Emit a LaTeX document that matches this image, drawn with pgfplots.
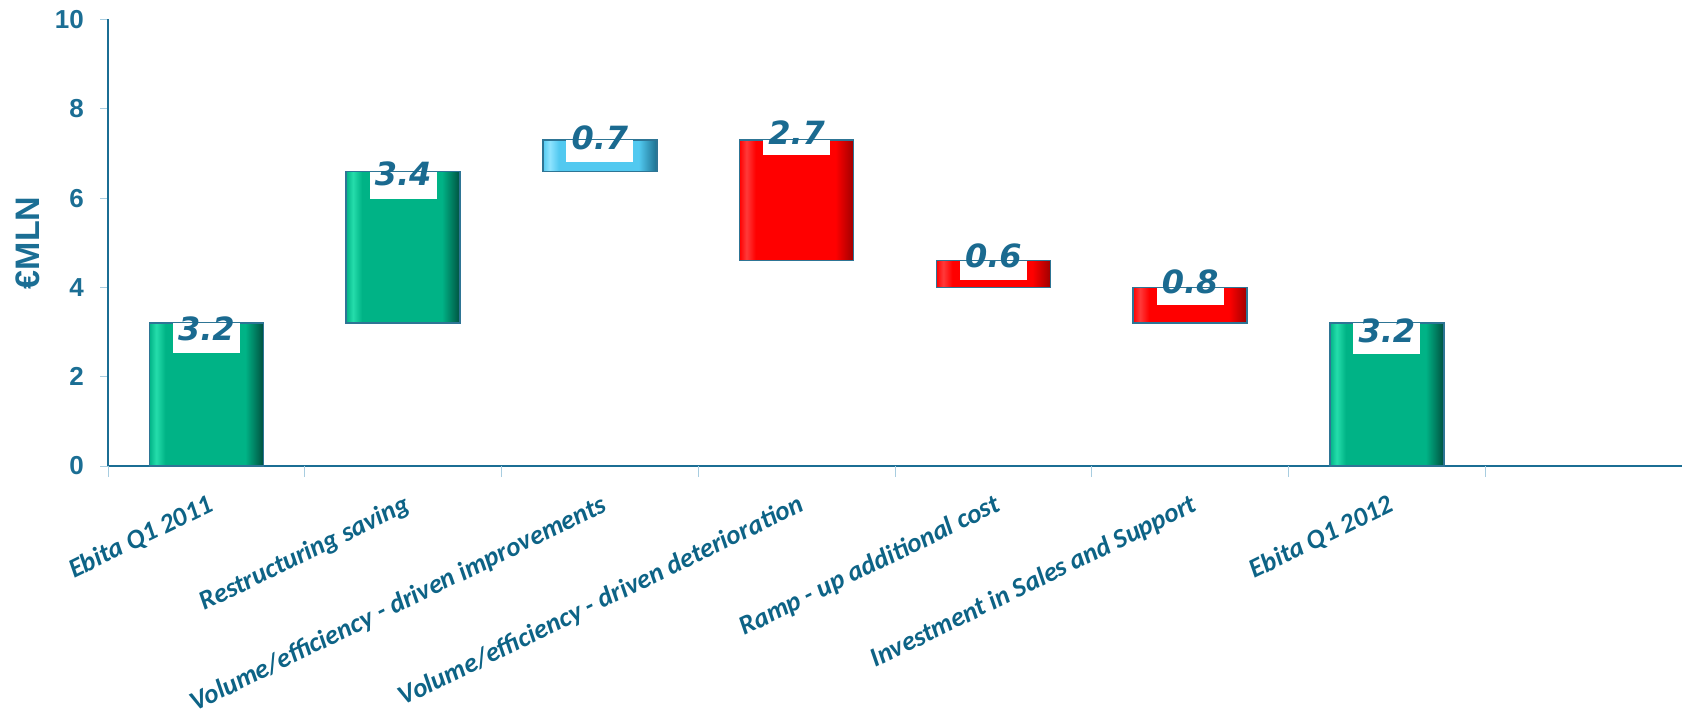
\documentclass[border=0pt]{standalone}
\usepackage{pgfplots}
\pgfplotsset{compat=1.18}
\usepackage{pgfplotstable}
\usepackage{fontspec}
\setmainfont{Carlito}
\newfontfamily\arialf{Liberation Sans}
\newfontfamily\dejavu{DejaVu Sans}
\definecolor{gMain}{HTML}{00B386}
\definecolor{gLight}{HTML}{25DDAB}
\definecolor{gDark}{HTML}{00503F}
\definecolor{bMain}{HTML}{52C9F0}
\definecolor{bLight}{HTML}{8FE4FF}
\definecolor{bDark}{HTML}{1C6F8E}
\definecolor{rMain}{HTML}{FF0000}
\definecolor{rLight}{HTML}{FF3A3A}
\definecolor{rDark}{HTML}{9E0000}
\definecolor{border}{HTML}{2E7595}
\definecolor{axiscol}{HTML}{1B6E94}
\definecolor{tickcol}{HTML}{A8CDE0}
\definecolor{labcol}{HTML}{1A6A90}
\definecolor{catcol}{HTML}{0D6386}
\pgfdeclarehorizontalshading{gbar}{100bp}{color(0bp)=(gMain); color(25bp)=(gMain); color(28bp)=(gLight); color(32bp)=(gMain); color(67bp)=(gMain); color(75bp)=(gDark); color(100bp)=(gDark)}
\pgfdeclarehorizontalshading{bbar}{100bp}{color(0bp)=(bMain); color(25bp)=(bMain); color(28bp)=(bLight); color(32bp)=(bMain); color(67bp)=(bMain); color(75bp)=(bDark); color(100bp)=(bDark)}
\pgfdeclarehorizontalshading{rbar}{100bp}{color(0bp)=(rMain); color(25bp)=(rMain); color(28bp)=(rLight); color(32bp)=(rMain); color(67bp)=(rMain); color(75bp)=(rDark); color(100bp)=(rDark)}
\newcommand\vlab[6]{%
  \node[fill=white, minimum width=67bp, minimum height=#3, inner sep=0pt, anchor=north] at (axis cs:#1,#2) {};
  \node[font=\dejavu\bfseries\itshape\fontsize{32bp}{32bp}\selectfont, text=labcol, inner sep=0pt, anchor=center] at ([yshift=#4]axis cs:#1,#2) {#5};}
\begin{document}
\begin{tikzpicture}
\begin{axis}[
  name=ax,
  scale only axis,
  width=1574bp, height=446.5bp,
  xmin=-0.5, xmax=7.5,
  ymin=0, ymax=10,
  axis lines=left,
  axis line style={-, draw=axiscol, line width=1.5bp},
  tick align=outside,
  major tick length=8bp,
  ytick={0,2,4,6,8,10},
  ytick style={draw=tickcol, line width=1bp},
  /pgf/number format/assume math mode=true,
  yticklabel style={font=\arialf\bfseries\fontsize{26bp}{26bp}\selectfont, text=axiscol, inner sep=0pt, xshift=-16bp},
  xtick={0,1,2,3,4,5,6},
  xticklabels={Ebita Q1 2011,Restructuring saving,Volume/efficiency - driven improvements,Volume/efficiency - driven deterioration,Ramp - up additional cost,Investment in Sales and Support,Ebita Q1 2012},
  xtick style={draw=none},
  xticklabel style={font=\bfseries\itshape\fontsize{27bp}{27bp}\selectfont, text=catcol, inner sep=0pt, anchor=north east, yshift=-19bp, xshift=0bp, rotate=26},
  extra x ticks={-0.5,0.5,1.5,2.5,3.5,4.5,5.5,6.5,7.5},
  extra x tick labels={},
  extra x tick style={xtick style={draw=tickcol, line width=1bp}, major tick length=11bp},
  ylabel={€MLN},
  every axis y label/.style={at={(axis description cs:0,0.5)}, xshift=-80bp, rotate=90, anchor=center, font=\arialf\bfseries\fontsize{34bp}{34bp}\selectfont, text=axiscol},
  clip=false,
  bar/.style={draw=border, line width=1.5bp, shade},
]
% green bars
\addplot[bar, shading=gbar] coordinates {(-0.29,0) (0.29,0) (0.29,3.2) (-0.29,3.2)} -- cycle;
\addplot[bar, shading=gbar] coordinates {(0.71,3.2) (1.29,3.2) (1.29,6.6) (0.71,6.6)} -- cycle;
\addplot[bar, shading=gbar] coordinates {(5.71,0) (6.29,0) (6.29,3.2) (5.71,3.2)} -- cycle;
% blue bar
\addplot[bar, shading=bbar] coordinates {(1.71,6.6) (2.29,6.6) (2.29,7.3) (1.71,7.3)} -- cycle;
% red bars
\addplot[bar, shading=rbar] coordinates {(2.71,4.6) (3.29,4.6) (3.29,7.3) (2.71,7.3)} -- cycle;
\addplot[bar, shading=rbar] coordinates {(3.71,4.0) (4.29,4.0) (4.29,4.6) (3.71,4.6)} -- cycle;
\addplot[bar, shading=rbar] coordinates {(4.71,3.2) (5.29,3.2) (5.29,4.0) (4.71,4.0)} -- cycle;
% value labels
\vlab{0}{3.2}{30bp}{-6bp}{3.2}{}
\vlab{1}{6.6}{27bp}{-3bp}{3.4}{}
\vlab{2}{7.3}{22bp}{2.5bp}{0.7}{}
\vlab{3}{7.3}{15bp}{7.5bp}{2.7}{}
\vlab{4}{4.6}{19bp}{5bp}{0.6}{}
\vlab{5}{4.0}{17bp}{6bp}{0.8}{}
\vlab{6}{3.2}{31bp}{-8bp}{3.2}{}
\end{axis}
\pgfresetboundingbox
\path ([shift={(-108bp,-251bp)}]ax.south west) rectangle ([shift={(0bp,19.5bp)}]ax.north east);
\end{tikzpicture}
\end{document}
